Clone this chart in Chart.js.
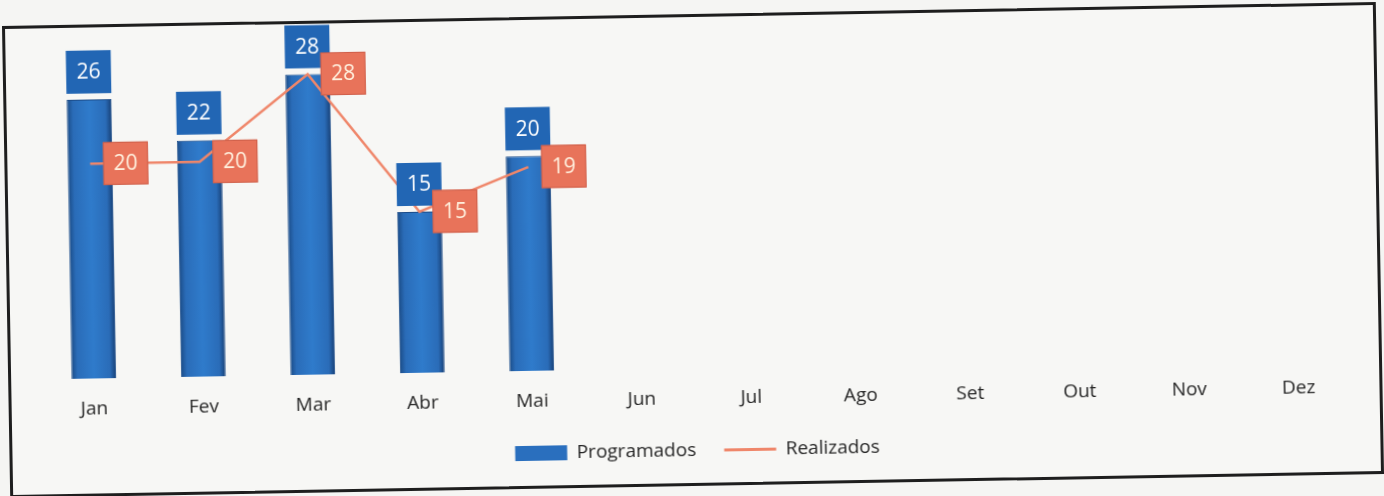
<!DOCTYPE html>
<html lang="pt">
<head>
<meta charset="utf-8">
<title>Programados x Realizados</title>
<script src="https://cdn.jsdelivr.net/npm/chart.js@4"></script>
<style>
  html, body {
    margin: 0;
    padding: 0;
    background: #f5f5f3;
    width: 1384px;
    height: 496px;
    overflow: hidden;
  }
  #frame {
    position: absolute;
    left: 6px;
    top: 14px;
    width: 1374px;
    height: 472px;
    box-sizing: border-box;
    border: 3px solid #1e1e1e;
    background: #f7f7f5;
    transform: rotate(-1deg);
  }
  #chart {
    display: block;
  }
</style>
</head>
<body>
<div id="frame">
  <canvas id="chart" width="1368" height="466"></canvas>
</div>
<script>
// Months
const meses = ["Jan", "Fev", "Mar", "Abr", "Mai", "Jun", "Jul", "Ago", "Set", "Out", "Nov", "Dez"];

// Series
const programados = [26, 22, 28, 15, 20, null, null, null, null, null, null, null];
const realizados = [20, 20, 28, 15, 19, null, null, null, null, null, null, null];

// Colours
const azul = "#2a6fbe";
const azulEscuro = "#1b4c8a";
const azulRotulo = "#2266b4";
const laranja = "#ef866a";
const laranjaRotulo = "#e8735a";
const fonte = "'Open Sans', 'DejaVu Sans', sans-serif";

const BAR_PCT = 0.41;

// bar fill: darker at the edges, lighter in the middle
function barFill(ctx) {
  const chart = ctx.chart;
  const xScale = chart.scales.x;
  if (!chart.chartArea || !xScale) return azul;
  const cx = xScale.getPixelForValue(ctx.dataIndex);
  const half = (xScale.width / meses.length) * BAR_PCT / 2;
  const g = chart.ctx.createLinearGradient(cx - half, 0, cx + half, 0);
  g.addColorStop(0, "#1a4b86");
  g.addColorStop(0.14, "#2a6cb8");
  g.addColorStop(0.5, "#2f7bcb");
  g.addColorStop(0.86, "#2a6cb8");
  g.addColorStop(1, "#173f74");
  return g;
}

// boxed value labels: above the bars, to the right of the line points
const valueBoxes = {
  id: "valueBoxes",
  afterDatasetsDraw(chart) {
    const ctx = chart.ctx;
    const boxH = 43;
    ctx.save();
    ctx.font = "21px " + fonte;
    ctx.textAlign = "center";
    ctx.textBaseline = "middle";

    const barMeta = chart.getDatasetMeta(0);
    barMeta.data.forEach((bar, i) => {
      const v = programados[i];
      if (v == null) return;
      const w = bar.width;
      const top = bar.y - 6 - boxH;
      ctx.fillStyle = azulRotulo;
      ctx.fillRect(bar.x - w / 2, top, w, boxH);
      ctx.fillStyle = "#ffffff";
      ctx.fillText(String(v), bar.x, top + boxH / 2 + 1);
    });

    const lineMeta = chart.getDatasetMeta(1);
    lineMeta.data.forEach((pt, i) => {
      const v = realizados[i];
      if (v == null) return;
      const w = 45;
      const left = pt.x + 13;
      const top = pt.y - boxH / 2;
      ctx.fillStyle = laranjaRotulo;
      ctx.fillRect(left, top, w, boxH);
      ctx.strokeStyle = "rgba(200,90,70,0.8)";
      ctx.lineWidth = 1;
      ctx.strokeRect(left + 0.5, top + 0.5, w - 1, boxH - 1);
      ctx.fillStyle = "#fff1df";
      ctx.fillText(String(v), left + w / 2, top + boxH / 2 + 1);
    });
    ctx.restore();
  },
};

const ctx = document.getElementById("chart").getContext("2d");
new Chart(ctx, {
  type: "bar",
  data: {
    labels: meses,
    datasets: [
      {
        type: "bar",
        label: "Programados",
        data: programados,
        backgroundColor: barFill,
        borderColor: azulEscuro,
        borderWidth: 1,
        barPercentage: BAR_PCT,
        categoryPercentage: 1,
        order: 1,
      },
      {
        type: "line",
        label: "Realizados",
        data: realizados,
        borderColor: laranja,
        backgroundColor: laranja,
        borderWidth: 2.5,
        pointRadius: 0,
        tension: 0,
        order: 0,
      },
    ],
  },
  options: {
    responsive: false,
    animation: false,
    layout: {
      padding: { left: 28, right: 26, top: 29, bottom: 13 },
    },
    scales: {
      x: {
        grid: { display: false, drawTicks: false },
        border: { display: false },
        ticks: {
          color: "#262626",
          padding: 19,
          font: { family: fonte, size: 19 },
        },
        afterFit(scale) {
          scale.height = 45;
        },
      },
      y: {
        display: false,
        min: 0,
        max: 30,
      },
    },
    plugins: {
      tooltip: { enabled: false },
      legend: {
        position: "bottom",
        labels: {
          usePointStyle: true,
          pointStyleWidth: 52,
          boxHeight: 15,
          padding: 28,
          color: "#262626",
          font: { family: fonte, size: 19 },
          generateLabels: (chart) =>
            chart.data.datasets.map((ds, i) => ({
              text: ds.label,
              datasetIndex: i,
              hidden: false,
              fontColor: "#262626",
              fillStyle: i === 0 ? azul : laranja,
              strokeStyle: i === 0 ? azulEscuro : laranja,
              lineWidth: i === 0 ? 0 : 3,
              pointStyle: i === 0 ? "rect" : "line",
            })),
        },
      },
    },
  },
  plugins: [valueBoxes],
});
</script>
</body>
</html>
